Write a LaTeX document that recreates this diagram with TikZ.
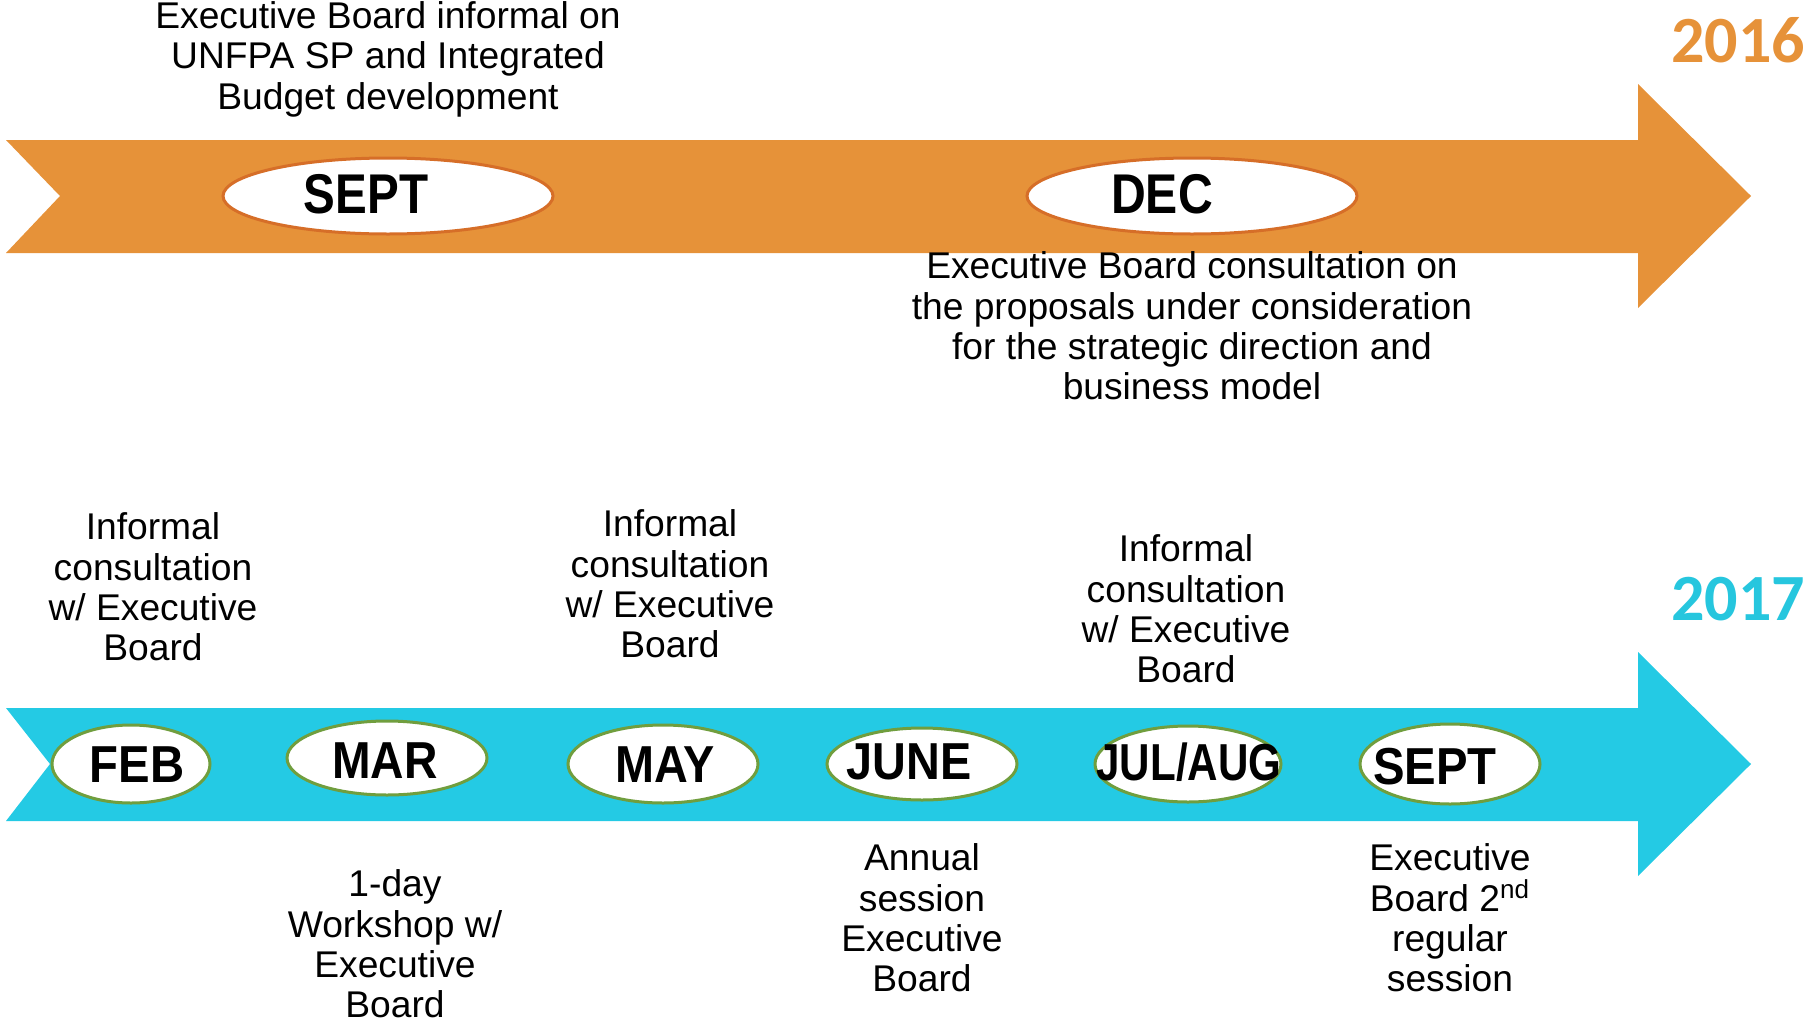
\documentclass[tikz,border=0pt]{standalone}
\usepackage{fontspec}
\setmainfont{Liberation Sans}
\newfontfamily\yearfont{Carlito}
\usepackage{graphicx}
\usetikzlibrary{shapes.geometric}
\definecolor{orangearrow}{RGB}{230,146,57}
\definecolor{orangeline}{RGB}{214,110,40}
\definecolor{cyanarrow}{RGB}{36,202,228}
\definecolor{cyantext}{RGB}{38,198,222}
\definecolor{greenline}{RGB}{112,158,62}
\begin{document}
\begin{tikzpicture}[x=0.5pt,y=-0.5pt,
  desc/.style={align=center, font=\fontsize{18.6}{20.2}\selectfont, inner sep=0pt},
  oval16/.style={ellipse, draw=orangeline, line width=1.5pt, fill=white, inner sep=0pt},
  oval17/.style={ellipse, draw=greenline, line width=1.5pt, fill=white, inner sep=0pt},
  mon16/.style={font=\fontsize{28}{28}\selectfont\bfseries, inner sep=0pt, text depth=0pt},
  mon17/.style={font=\fontsize{26}{26}\selectfont\bfseries, inner sep=0pt, text depth=0pt},
  year/.style={font=\yearfont\bfseries\fontsize{33}{33}\selectfont, inner sep=0pt}
]
\useasboundingbox (0,0) rectangle (1810,1023);

% arrows
\fill[orangearrow] (6,140) -- (1638,140) -- (1638,84) -- (1751,196) -- (1638,308)
  -- (1638,253) -- (6,253) -- (60,196) -- cycle;
\fill[cyanarrow] (6,708) -- (1638,708) -- (1638,652) -- (1751,764) -- (1638,876)
  -- (1638,821) -- (6,821) -- (50,764) -- cycle;

% years
\node[year, text=orangearrow] (y2016) at (1738,40) {2016};
\node[year, text=cyantext] (y2017) at (1738,599) {2017};

% 2016 ovals
\node[oval16, minimum width=165pt, minimum height=38pt] (sept16) at (388,196) {};
\node[mon16] (sept16t) at (366,194) {\scalebox{0.85}[1]{SEPT}};
\node[oval16, minimum width=165pt, minimum height=38pt] (dec16) at (1192,196) {};
\node[mon16] (dec16t) at (1162,194) {\scalebox{0.86}[1]{DEC}};

% 2016 texts
\node[desc] (t1) at (388,59) {Executive Board informal on\\UNFPA SP and Integrated\\Budget development};
\node[desc] (t2) at (1192,326) {Executive Board consultation on\\the proposals under consideration\\for the strategic direction and\\business model};

% 2017 ovals
\node[oval17, minimum width=79pt, minimum height=39pt] (feb) at (131,764) {};
\node[mon17] (febt) at (137,765) {\scalebox{0.91}[1]{FEB}};
\node[oval17, minimum width=100pt, minimum height=37pt] (mar) at (387,758) {};
\node[mon17] (mart) at (385,761) {\scalebox{0.89}[1]{MAR}};
\node[oval17, minimum width=95pt, minimum height=39pt] (may) at (663,764) {};
\node[mon17] (mayt) at (665,765) {\scalebox{0.9}[1]{MAY}};
\node[oval17, minimum width=95pt, minimum height=36pt] (june) at (922,764) {};
\node[mon17] (junet) at (909,762) {\scalebox{0.9}[1]{JUNE}};
\node[oval17, minimum width=93pt, minimum height=38pt] (julaug) at (1188,764) {};
\node[mon17] (julaugt) at (1189,762) {\scalebox{0.81}[1]{JUL/AUG}};
\node[oval17, minimum width=90pt, minimum height=40pt] (sept17) at (1450,764) {};
\node[mon17] (sept17t) at (1435,766) {\scalebox{0.91}[1]{SEPT}};

% 2017 texts
\node[desc] (t3) at (153,587) {Informal\\consultation\\w/ Executive\\Board};
\node[desc] (t4) at (670,584) {Informal\\consultation\\w/ Executive\\Board};
\node[desc] (t5) at (1186,609) {Informal\\consultation\\w/ Executive\\Board};
\node[desc] (t6) at (395,944) {1-day\\Workshop w/\\Executive\\Board};
\node[desc] (t7) at (922,918) {Annual\\session\\Executive\\Board};
\node[desc] (t8) at (1450,918) {Executive\\Board 2\textsuperscript{nd}\\regular\\session};
\end{tikzpicture}
\end{document}
